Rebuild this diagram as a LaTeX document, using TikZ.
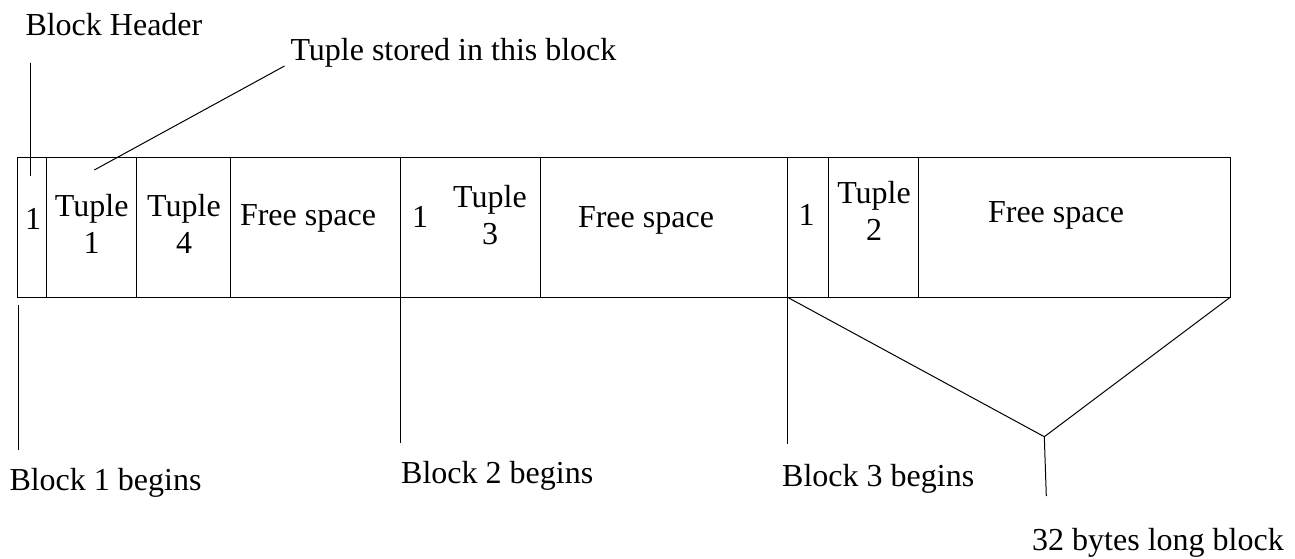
\documentclass[tikz,border=0pt]{standalone}
\usepackage{fontspec}
\setmainfont{Liberation Serif}
\usetikzlibrary{positioning}

\begin{document}
\begin{tikzpicture}[x=1pt,y=-1pt,line width=1pt,
  cell/.style={draw,anchor=north west,minimum height=139.5pt,inner sep=0pt,outer sep=0pt},
  txt/.style={font=\fontsize{32}{36.5}\selectfont,inner sep=0pt,align=center,anchor=base},
  lbl/.style={font=\fontsize{32}{36.5}\selectfont,inner sep=0pt,anchor=base west}]

	\useasboundingbox (0,0) rectangle (1295,558);

	% --- Cells ---
	\node[cell,minimum width=29pt]                  (c1) at (17,157.5) {};
	\node[cell,minimum width=90pt,right=0pt of c1]    (c2) {};
	\node[cell,minimum width=94.5pt,right=0pt of c2]  (c3) {};
	\node[cell,minimum width=170pt,right=0pt of c3]   (c4) {};
	\node[cell,minimum width=140pt,right=0pt of c4]   (c5) {};
	\node[cell,minimum width=246.5pt,right=0pt of c5] (c6) {};
	\node[cell,minimum width=41.5pt,right=0pt of c6]  (c7) {};
	\node[cell,minimum width=89.8pt,right=0pt of c7]  (c8) {};
	\node[cell,minimum width=312.2pt,right=0pt of c8] (c9) {};

	% --- Cell texts (base = last line) ---
	\node[txt] (h1) at (33,229)    {1};
	\node[txt] (t1) at (91.7,253)  {Tuple\\1};
	\node[txt] (t4) at (184,253)   {Tuple\\4};
	\node[txt] (f1) at (308,225)   {Free space};
	\node[txt] (h2) at (420,227)   {1};
	\node[txt] (t3) at (490,244)   {Tuple\\3};
	\node[txt] (f2) at (646,227)   {Free space};
	\node[txt] (h3) at (806.7,225) {1};
	\node[txt] (t2) at (874,240)   {Tuple\\2};
	\node[txt] (f3) at (1056,222)  {Free space};

	% --- Labels ---
	\node[lbl] (hdr) at (25,35)       {Block Header};
	\node[lbl] (ts)  at (290,60)      {Tuple stored in this block};
	\node[lbl] (b1)  at (9,490)       {Block 1 begins};
	\node[lbl] (b2)  at (400.7,483)   {Block 2 begins};
	\node[lbl] (b3)  at (781.7,486.7) {Block 3 begins};
	\node[lbl] (len) at (1031.7,550)  {32 bytes long block};

	% --- Pointers ---
	\coordinate (hdrtop)  at (30.7,62.7);
	\coordinate (hdrend)  at (30.7,176);
	\coordinate (tstop)   at (284.5,66);
	\coordinate (tsend)   at (94.3,170);
	\coordinate (b1top)   at (18,305);
	\coordinate (b1end)   at (18,450);
	\coordinate (b2end)   at (400.5,443);
	\coordinate (b3end)   at (787,444);
	\coordinate (apex)    at (1044.3,436.7);
	\coordinate (apexend) at (1046.3,496);

	\draw (hdrtop) -- (hdrend);
	\draw (tstop) -- (tsend);
	\draw (b1top) -- (b1end);
	\draw (c5.south west) -- (b2end);
	\draw (c7.south west) -- (b3end);
	\draw (c7.south west) -- (apex) -- (c9.south east);
	\draw (apex) -- (apexend);
\end{tikzpicture}
\end{document}
